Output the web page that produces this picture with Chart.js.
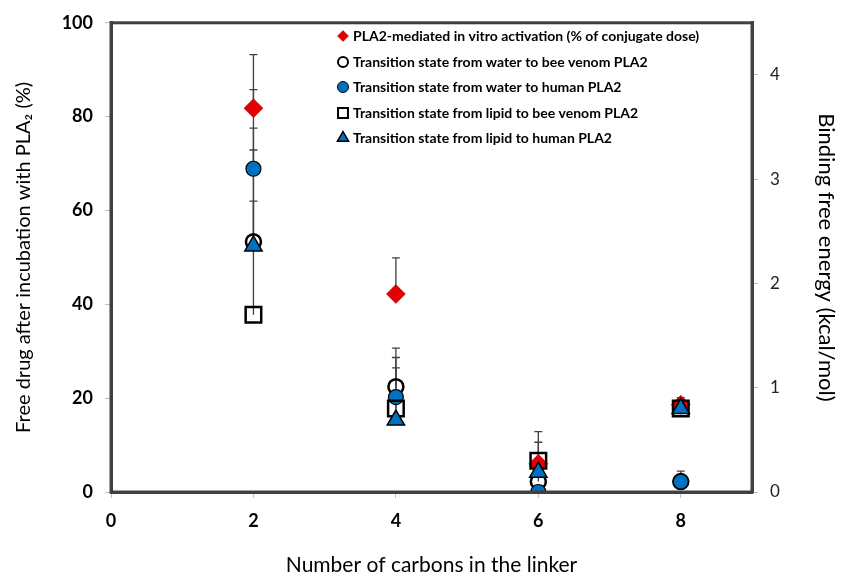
<!DOCTYPE html>
<html>
<head>
<meta charset="utf-8">
<script src="https://cdn.jsdelivr.net/npm/chart.js@4.4.1/dist/chart.umd.min.js"></script>
<style>
  html, body { margin: 0; padding: 0; background: #fff; }
</style>
</head>
<body>
<canvas id="chart" width="841" height="576"></canvas>
<script>
// Number of carbons in the linker
const carbons = [2, 4, 6, 8];

// PLA2-mediated in vitro activation (% of conjugate dose), left axis
const activation = [81.8, 42.2, 6.0, 18.6];
const activationErr = [11.4, 7.7, 4.6, 1.5];

// Binding free energies (kcal/mol), right axis
const waterBee = [2.40, 1.01, 0.10, 0.10];
const waterBeeErr = [1.09, 0.37, 0.10, 0.00];
const waterHuman = [3.10, 0.91, 0.00, 0.10];
const waterHumanErr = [0.76, 0.38, 0.00, 0.10];
const lipidBee = [1.70, 0.80, 0.30, 0.80];
const lipidBeeErr = [1.09, 0.39, 0.28, 0.05];
const lipidHuman = [2.36, 0.69, 0.19, 0.80];
const lipidHumanErr = [0.92, 0.20, 0.10, 0.05];

const xTicks = [0, 2, 4, 6, 8];
const leftTicks = [0, 20, 40, 60, 80, 100];
const rightTicks = [0, 1, 2, 3, 4];

const red = '#e30000';
const blue = '#0070c0';
const axisColor = '#404040';
const fontFamily = 'Lato, "Open Sans", sans-serif';

const toPoints = values => values.map((v, i) => ({ x: carbons[i], y: v }));

// Upward error bars, drawn under the markers
const errorBars = {
  id: 'errorBars',
  beforeDatasetsDraw(chart) {
    const { ctx } = chart;
    ctx.save();
    ctx.strokeStyle = axisColor;
    ctx.lineWidth = 1.3;
    chart.data.datasets.forEach(ds => {
      if (!ds.errors) return;
      const xScale = chart.scales.x;
      const yScale = chart.scales[ds.yAxisID];
      ds.data.forEach((p, i) => {
        const err = ds.errors[i];
        if (!err) return;
        const px = xScale.getPixelForValue(p.x);
        const y0 = yScale.getPixelForValue(p.y);
        const y1 = yScale.getPixelForValue(p.y + err);
        ctx.beginPath();
        ctx.moveTo(px, y0);
        ctx.lineTo(px, y1);
        ctx.moveTo(px - 4, y1);
        ctx.lineTo(px + 4, y1);
        ctx.stroke();
      });
    });
    ctx.restore();
  }
};

// Frame round the plot area (top edge is not drawn by any axis)
const plotFrame = {
  id: 'plotFrame',
  afterDatasetsDraw(chart) {
    const { ctx, chartArea: a } = chart;
    ctx.save();
    ctx.strokeStyle = axisColor;
    ctx.lineWidth = 3;
    ctx.strokeRect(a.left, a.top, a.right - a.left, a.bottom - a.top);
    ctx.restore();
  }
};

// Legend inside the plot area, top right
const insideLegend = {
  id: 'insideLegend',
  afterDraw(chart) {
    const { ctx } = chart;
    const markerX = 343;
    const textX = 353;
    const rowY = [36, 62, 87, 113, 138];
    const markers = [
      { style: 'rectRot', radius: 5.5, fill: red, stroke: '#a00000', width: 0.5 },
      { style: 'circle', radius: 5, fill: 'rgba(0,0,0,0)', stroke: '#000', width: 2 },
      { style: 'circle', radius: 5.5, fill: blue, stroke: '#000', width: 1 },
      { style: 'rect', radius: 7, fill: 'rgba(0,0,0,0)', stroke: '#000', width: 2 },
      { style: 'triangle', radius: 6.5, fill: blue, stroke: '#000', width: 1.5 }
    ];
    ctx.save();
    ctx.font = 'bold 14px ' + fontFamily;
    ctx.textBaseline = 'middle';
    chart.data.datasets.forEach((ds, i) => {
      const m = markers[i];
      ctx.fillStyle = m.fill;
      ctx.strokeStyle = m.stroke;
      ctx.lineWidth = m.width;
      Chart.helpers.drawPoint(ctx, { pointStyle: m.style, radius: m.radius, borderWidth: m.width }, markerX, rowY[i]);
      ctx.fillStyle = '#000';
      ctx.fillText(ds.label, textX, rowY[i]);
    });
    ctx.restore();
  }
};

new Chart(document.getElementById('chart'), {
  type: 'scatter',
  data: {
    datasets: [
      {
        label: 'PLA2-mediated in vitro activation (% of conjugate dose)',
        data: toPoints(activation),
        errors: activationErr,
        yAxisID: 'y',
        pointStyle: 'rectRot',
        pointRadius: 9.5,
        backgroundColor: red,
        borderColor: '#a00000',
        borderWidth: 0.5,
        order: 5
      },
      {
        label: 'Transition state from water to bee venom PLA2',
        data: toPoints(waterBee),
        errors: waterBeeErr,
        yAxisID: 'y1',
        pointStyle: 'circle',
        pointRadius: 7.5,
        backgroundColor: 'rgba(0,0,0,0)',
        borderColor: '#000',
        borderWidth: 2.5,
        order: 4
      },
      {
        label: 'Transition state from water to human PLA2',
        data: toPoints(waterHuman),
        errors: waterHumanErr,
        yAxisID: 'y1',
        pointStyle: 'circle',
        pointRadius: 7.5,
        backgroundColor: blue,
        borderColor: '#000',
        borderWidth: 1.2,
        order: 3
      },
      {
        label: 'Transition state from lipid to bee venom PLA2',
        data: toPoints(lipidBee),
        errors: lipidBeeErr,
        yAxisID: 'y1',
        pointStyle: 'rect',
        pointRadius: 11,
        backgroundColor: 'rgba(0,0,0,0)',
        borderColor: '#000',
        borderWidth: 2.5,
        order: 2
      },
      {
        label: 'Transition state from lipid to human PLA2',
        data: toPoints(lipidHuman),
        errors: lipidHumanErr,
        yAxisID: 'y1',
        pointStyle: 'triangle',
        pointRadius: 10,
        backgroundColor: blue,
        borderColor: '#000',
        borderWidth: 1.5,
        order: 1
      }
    ]
  },
  options: {
    responsive: false,
    animation: false,
    layout: { padding: { top: 19 } },
    plugins: {
      legend: { display: false },
      tooltip: { enabled: false }
    },
    scales: {
      x: {
        type: 'linear',
        min: 0,
        max: 9,
        afterFit: s => { s.height = 84; },
        afterBuildTicks: s => { s.ticks = xTicks.map(v => ({ value: v })); },
        grid: { drawOnChartArea: false, tickLength: 6, color: '#bfbfbf' },
        border: { color: axisColor, width: 3 },
        ticks: { padding: 12, color: '#000', font: { family: fontFamily, size: 18, weight: 'bold' } },
        title: {
          display: true,
          text: 'Number of carbons in the linker',
          color: '#000',
          padding: { top: 0, bottom: 0 },
          font: { family: fontFamily, size: 21, lineHeight: 1 }
        }
      },
      y: {
        position: 'left',
        min: 0,
        max: 100,
        afterFit: s => { s.width = 111; },
        afterBuildTicks: s => { s.ticks = leftTicks.map(v => ({ value: v })); },
        grid: { drawOnChartArea: false, tickLength: 6, color: '#bfbfbf' },
        border: { color: axisColor, width: 3 },
        ticks: { padding: 12, color: '#000', font: { family: fontFamily, size: 18, weight: 'bold' } },
        title: {
          display: true,
          text: 'Free drug after incubation with PLA\u2082 (%)',
          color: '#000',
          padding: { top: 12, bottom: 0 },
          font: { family: fontFamily, size: 20 }
        }
      },
      y1: {
        position: 'right',
        min: 0,
        max: 4.5,
        afterFit: s => { s.width = 89; },
        afterBuildTicks: s => { s.ticks = rightTicks.map(v => ({ value: v })); },
        grid: { drawOnChartArea: false, tickLength: 6, color: '#bfbfbf' },
        border: { color: axisColor, width: 3 },
        ticks: { padding: 12, color: '#222', font: { family: fontFamily, size: 17 } },
        title: {
          display: true,
          text: 'Binding free energy (kcal/mol)',
          color: '#000',
          padding: { top: 2, bottom: 0 },
          font: { family: fontFamily, size: 22 }
        }
      }
    }
  },
  plugins: [errorBars, plotFrame, insideLegend]
});
</script>
</body>
</html>
